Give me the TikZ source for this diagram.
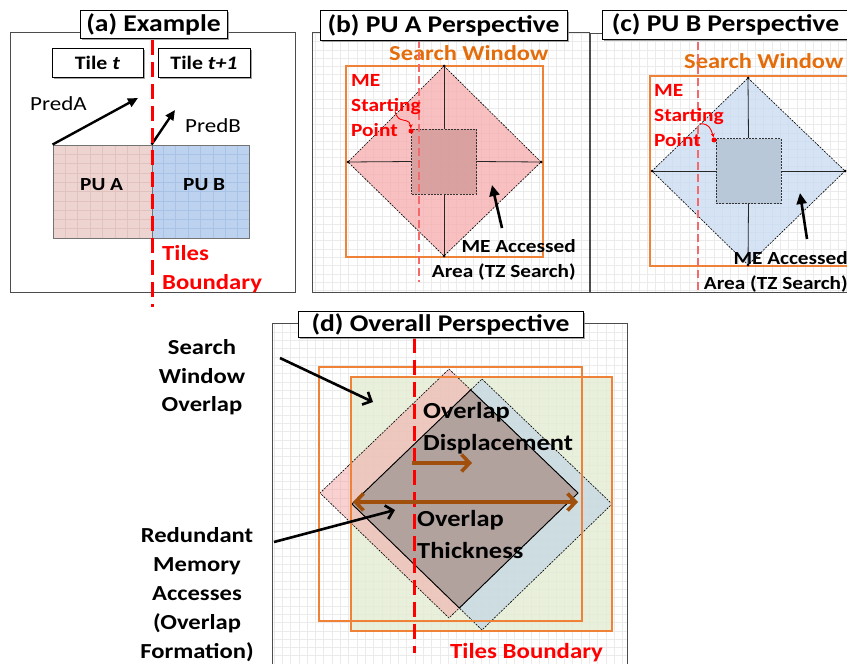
\documentclass[tikz,border=0pt]{standalone}
\usepackage{fontspec}
\setmainfont{Carlito}[FakeStretch=1.15]
\usetikzlibrary{arrows.meta,shadows}
\newcommand\fsz[2]{\fontsize{#1pt}{#2pt}\selectfont}

\definecolor{tbred}{HTML}{FF0000}
\definecolor{tbthinc}{HTML}{F46A6A}
\definecolor{swline}{HTML}{EF8236}
\definecolor{swtext}{HTML}{E46C0A}
\definecolor{puAc}{HTML}{EED4D0}
\definecolor{puAg}{HTML}{E0C3BF}
\definecolor{puBc}{HTML}{BDD2EE}
\definecolor{puBg}{HTML}{A9C3E6}
\definecolor{pinkd}{HTML}{F6B0B0}
\definecolor{pinksq}{HTML}{D59C9C}
\definecolor{blued}{HTML}{CADCF1}
\definecolor{bluesq}{HTML}{B5C3D5}
\definecolor{greenf}{HTML}{E4ECD4}
\definecolor{ovpink}{HTML}{F4A3A3}
\definecolor{ovblue}{HTML}{AFC8EA}
\definecolor{overlapc}{HTML}{AE9F99}
\definecolor{brownarr}{HTML}{A0500C}

\begin{document}
\begin{tikzpicture}[x=1pt,y=-1pt,
  panel/.style={draw=black!70,line width=0.8pt},
  bggrid/.style={draw=black!8,line width=0.5pt},
  shadowed/.style={drop shadow={shadow xshift=1.8pt,shadow yshift=-1.8pt,fill=black!45,opacity=0.8}},
  titlebox/.style={shadowed,draw=black,line width=1pt,fill=white,inner sep=0pt,font=\fsz{24}{28}\bfseries},
  tilebox/.style={shadowed,draw=black,line width=1pt,fill=white,inner sep=0pt,minimum height=29pt,font=\fsz{19}{22}\bfseries},
  txt/.style={inner sep=0pt},
  pubox/.style={draw=black!55,line width=0.9pt,inner sep=0pt,minimum height=93pt},
  pugrid/.style={path picture={\draw[draw=#1,line width=0.5pt] (path picture bounding box.south west) grid[xstep=12.4pt,ystep=9.3pt] (path picture bounding box.north east);}},
  tbthick/.style={draw=tbred,line width=3pt,dash pattern=on 15pt off 7pt},
  tbthin/.style={draw=tbthinc,line width=1.1pt,dash pattern=on 8pt off 4pt},
  swrect/.style={draw=swline,line width=1.2pt},
  tzedge/.style={draw=black,line width=0.6pt,dash pattern=on 2pt off 1.2pt},
  tzcross/.style={draw=black!85,line width=0.8pt},
  innersq/.style={draw=black!80,line width=0.6pt,dash pattern=on 2pt off 1.2pt,inner sep=0pt,minimum width=65pt,minimum height=65pt,fill opacity=0.85},
  vdot/.style={circle,fill=black,inner sep=0pt,minimum size=3pt},
  spdot/.style={circle,fill=tbred,inner sep=0pt,minimum size=5pt},
  sparrow/.style={draw=tbred,line width=0.9pt,-{Stealth[length=4pt,width=4pt]}},
  fatarrow/.style={draw=black,line width=2.6pt,-{Triangle[length=11pt,width=10pt]}},
  predarrow/.style={draw=black,line width=2.4pt,-{Triangle[length=10pt,width=9pt]}},
  barbarrow/.style={draw=black,line width=2.6pt,-{Straight Barb[length=7pt,width=14pt]}},
  brownarrow/.style={draw=brownarr,line width=3.6pt},
  redlbl/.style={txt,text=tbred,font=\fsz{18.6}{25}\bfseries,align=left},
  acclbl/.style={txt,font=\fsz{18.5}{25}\bfseries,align=right},
  swlbl/.style={txt,text=swtext,font=\fsz{21.3}{25}\bfseries}
]
\useasboundingbox (0,0) rectangle (847,664);
\clip (0,0) rectangle (847,664);

% ---------------- (a) Example ----------------
\draw[panel] (10.7,32) rectangle (295,292);
\node[tilebox,minimum width=91pt] (tileT) at (97.5,62.5) {Tile \textit{t}};
\node[tilebox,minimum width=92pt] (tileT1) at (204,62.5) {Tile \textit{t+1}};
\node[pubox,minimum width=99pt,fill=puAc,pugrid=puAg] (puA) at (102.5,191.5) {};
\node[pubox,minimum width=97pt,fill=puBc,pugrid=puBg] (puB) at (200.5,191.5) {};
\node[txt,anchor=base west,font=\fsz{18.5}{22}\bfseries] (puAtxt) at (80,190) {PU A};
\node[txt,anchor=base west,font=\fsz{18.5}{22}\bfseries] (puBtxt) at (183,190) {PU B};
\coordinate (predAtip) at (138,98);
\coordinate (predBtip) at (175,110);
\draw[predarrow] (puA.north west) -- (predAtip);
\draw[predarrow] (puB.north west) -- (predBtip);
\node[txt,anchor=base west,font=\fsz{20}{24}] (predAtxt) at (30,110) {PredA};
\node[txt,anchor=base west,font=\fsz{20}{24}] (predBtxt) at (185,132) {PredB};
\coordinate (tbAtop) at (152,40);
\coordinate (tbAbot) at (152,307);
\draw[tbthick] (tbAtop) -- (tbAbot);
\node[txt,anchor=west,text=tbred,font=\fsz{21.5}{29}\bfseries,align=left] (tbAtxt) at (162,269.5) {Tiles\\Boundary};
\node[titlebox,minimum width=147pt,minimum height=28pt] (titA) at (153.5,24) {(a) Example};

% ---------------- (b) PU A Perspective ----------------
\begin{scope}
  \clip (312,32) rectangle (589,292);
  \draw[bggrid] (312,292) grid[step=8.3pt] (589,32);
\end{scope}
\draw[panel] (312,32) rectangle (589,292);
\node[swlbl,anchor=base west] (swB) at (389,60) {Search Window};
\draw[swrect] (346,66) rectangle (543,257);
\coordinate (bT) at (444,66);
\coordinate (bR) at (541,162);
\coordinate (bB) at (444,256);
\coordinate (bL) at (348,162);
\fill[pinkd,fill opacity=0.8] (bT) -- (bR) -- (bB) -- (bL) -- cycle;
\draw[tzedge] (bT) -- (bR) -- (bB) -- (bL) -- cycle;
\node[innersq,fill=pinksq] (bSq) at (444,161.5) {};
\draw[tzcross] (bT) -- (bSq.north);
\draw[tzcross] (bSq.south) -- (bB);
\draw[tzcross] (bL) -- (bSq.west);
\draw[tzcross] (bSq.east) -- (bR);
\foreach \v in {bT,bR,bB,bL} \node[vdot] at (\v) {};
\draw[tbthin] (419,40) -- (419,282);
\node[redlbl,anchor=west] (spB) at (351,105.5) {ME\\Starting\\Point};
\node[spdot] (dotB) at (411,131) {};
\coordinate (spBs) at (397,104);
\draw[sparrow] (spBs) .. controls (393,112) and (396,119) .. (403,120) .. controls (409,121) and (410.5,123) .. (dotB);
\coordinate (accBs) at (502,228);
\coordinate (accBe) at (492,185);
\draw[fatarrow] (accBs) -- (accBe);
\node[acclbl,anchor=east] (accB) at (576,260) {ME Accessed\\Area (TZ Search)};
\node[titlebox,minimum width=247pt,minimum height=30pt] (titB) at (443.5,25) {(b) PU A Perspective};

% ---------------- (c) PU B Perspective ----------------
\begin{scope}
  \clip (590,33) rectangle (870,292);
  \draw[bggrid] (590,292) grid[step=8.3pt] (870,33);
\end{scope}
\draw[panel] (590,33) rectangle (870,292);
\node[swlbl,anchor=base west] (swC) at (684,68) {Search Window};
\draw[swrect] (650,76) rectangle (847.5,266);
\coordinate (cT) at (748,78);
\coordinate (cR) at (845,171);
\coordinate (cB) at (748,265);
\coordinate (cL) at (652,171);
\fill[blued,fill opacity=0.8] (cT) -- (cR) -- (cB) -- (cL) -- cycle;
\draw[tzedge] (cT) -- (cR) -- (cB) -- (cL) -- cycle;
\node[innersq,fill=bluesq] (cSq) at (748.5,171) {};
\draw[tzcross] (cT) -- (cSq.north);
\draw[tzcross] (cSq.south) -- (cB);
\draw[tzcross] (cL) -- (cSq.west);
\draw[tzcross] (cSq.east) -- (cR);
\foreach \v in {cT,cR,cB,cL} \node[vdot] at (\v) {};
\draw[tbthin] (698,42) -- (698,292);
\node[redlbl,anchor=west] (spC) at (654,115.5) {ME\\Starting\\Point};
\node[spdot] (dotC) at (714,140) {};
\coordinate (spCs) at (699,124);
\draw[sparrow] (spCs) .. controls (704,123) and (709,125) .. (711,130) .. controls (712,133) and (713,135) .. (dotC);
\coordinate (accCs) at (807,239);
\coordinate (accCe) at (800,193);
\draw[fatarrow] (accCs) -- (accCe);
\node[acclbl,anchor=east] (accC) at (848,272) {ME Accessed\\Area (TZ Search)};
\node[titlebox,minimum width=247pt,minimum height=29pt] (titC) at (725.5,24.5) {(c) PU B Perspective};

% ---------------- (d) Overall Perspective ----------------
\begin{scope}
  \clip (272,323) rectangle (627,680);
  \draw[bggrid] (272,680) grid[step=8.3pt] (627,323);
\end{scope}
\draw[panel] (272,323) rectangle (627,680);
% search window of PU B, shaded
\fill[greenf,fill opacity=0.85] (351,377) rectangle (612,631);
% TZ diamonds of PU A and PU B
\coordinate (dAT) at (449,369);
\coordinate (dAR) at (578,493);
\coordinate (dAB) at (449,618);
\coordinate (dAL) at (320,493);
\coordinate (dBT) at (482,379);
\coordinate (dBR) at (612,504);
\coordinate (dBB) at (482,630);
\coordinate (dBL) at (352,504);
\fill[ovpink,fill opacity=0.5] (dAT) -- (dAR) -- (dAB) -- (dAL) -- cycle;
\fill[ovblue,fill opacity=0.45] (dBT) -- (dBR) -- (dBB) -- (dBL) -- cycle;
\draw[tzedge] (dAT) -- (dAR) -- (dAB) -- (dAL) -- cycle;
\draw[tzedge] (dBT) -- (dBR) -- (dBB) -- (dBL) -- cycle;
% overlap of both diamonds
\coordinate (ovT) at (470.7,389.9);
\coordinate (ovB) at (459.3,608);
\fill[overlapc,fill opacity=0.9] (dBL) -- (ovT) -- (dAR) -- (ovB) -- cycle;
\draw[black,line width=0.9pt] (dBL) -- (ovT) -- (dAR) -- (ovB) -- cycle;
% search windows
\draw[swrect] (319,367) rectangle (582,621);
\draw[swrect] (351,377) rectangle (612,631);
\coordinate (tbDtop) at (414,338);
\coordinate (tbDbot) at (414,653);
\draw[tbthick] (tbDtop) -- (tbDbot);
% displacement and thickness arrows
\coordinate (dispS) at (412,463);
\coordinate (dispE) at (472,463);
\draw[brownarrow,-{Straight Barb[length=8pt,width=17pt]}] (dispS) -- (dispE);
\coordinate (thkL) at (353,502);
\coordinate (thkR) at (578,502);
\draw[brownarrow,{Straight Barb[length=8pt,width=17pt]}-{Straight Barb[length=8pt,width=17pt]}] (thkL) -- (thkR);
\node[txt,anchor=west,font=\fsz{23}{32}\bfseries,align=left] (ovDisp) at (423,428.5) {Overlap\\Displacement};
\node[txt,anchor=west,font=\fsz{23}{32}\bfseries,align=left] (ovThk) at (417,534.5) {Overlap\\Thickness};
\node[txt,anchor=base west,text=tbred,font=\fsz{21.6}{26}\bfseries] (tbDtxt) at (450,658) {Tiles Boundary};
% side labels and pointers
\node[txt,font=\fsz{21.4}{28.5}\bfseries,align=center] (swoTxt) at (202,377.5) {Search\\Window\\Overlap};
\node[txt,font=\fsz{21.4}{29}\bfseries,align=center] (rmaTxt) at (197,594.5) {Redundant\\Memory\\Accesses\\(Overlap\\Formation)};
\coordinate (swoS) at (280,358);
\coordinate (swoE) at (373,402);
\draw[barbarrow] (swoS) -- (swoE);
\coordinate (rmaS) at (274,542);
\coordinate (rmaE) at (395,510);
\draw[barbarrow] (rmaS) -- (rmaE);
\node[titlebox,minimum width=285pt,minimum height=26pt] (titD) at (440.5,324) {(d) Overall Perspective};
\end{tikzpicture}
\end{document}
